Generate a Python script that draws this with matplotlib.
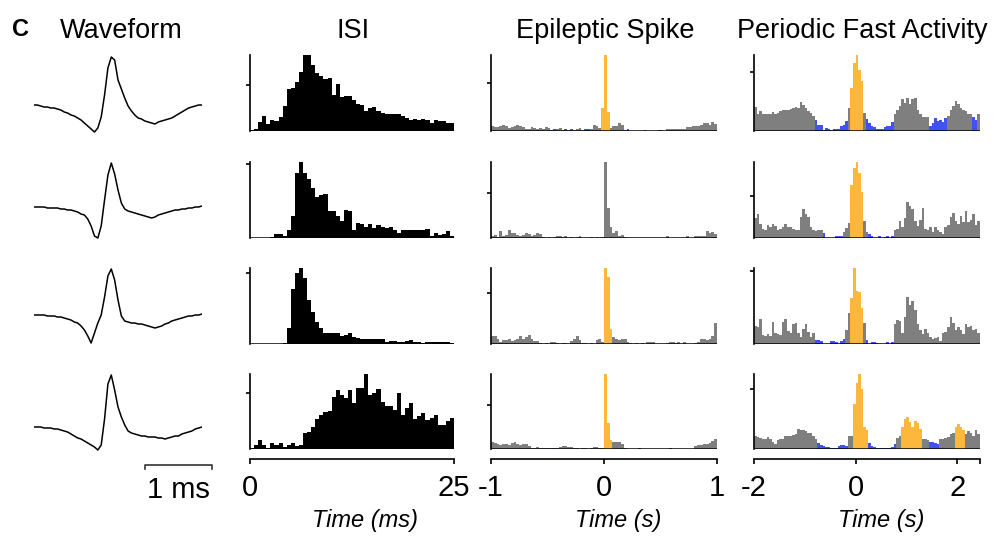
# Figure panel C: waveforms, ISI histograms and cross-correlograms

import numpy as np
import matplotlib.pyplot as plt

plt.rcParams['font.family'] = ['Liberation Sans', 'DejaVu Sans']

# ---- data ----
# waveforms, sampled every 0.05 ms (arbitrary amplitude units)
wf_dt = 0.05
wf_1 = [0, 0, -1, -2, -2, -3, -3, -4, -5, -7, -8, -10, -11, -13, -15, -18, -21, -24, -27, -23,
        -12, 10, 37, 48, 45, 25, 16, 7, -1, -6, -10, -13, -14, -16, -17, -18, -19, -17, -16, -15,
        -14, -13, -11, -9, -7, -5, -3, -2, -1, 0, 0]
wf_2 = [0, 0, 0, 0, -1, -1, -1, -1, -2, -2, -3, -3, -4, -5, -7, -8, -12, -19, -29, -31,
        -19, 7, 32, 44, 33, 17, 4, -2, -4, -5, -6, -7, -8, -9, -10, -11, -10, -8, -7, -6,
        -5, -4, -3, -3, -2, -2, -1, -1, 0, 0, 1]
wf_3 = [0, 0, 0, 0, -1, -1, -1, -2, -2, -3, -4, -5, -7, -8, -11, -15, -21, -28, -18, -8,
        0, 18, 39, 46, 35, 15, -1, -6, -7, -8, -8, -9, -9, -10, -11, -12, -13, -12, -11, -9,
        -8, -6, -5, -4, -3, -2, -1, -1, 0, 0, 1]
wf_4 = [0, 0, 0, -1, -1, -1, -2, -2, -3, -4, -5, -7, -9, -11, -12, -14, -16, -18, -20, -23,
        -18, 8, 43, 52, 37, 20, 10, 2, -4, -6, -7, -8, -9, -9, -10, -10, -10, -11, -11, -12,
        -11, -10, -9, -9, -7, -6, -5, -4, -2, -1, 0]
waveforms = [wf_1, wf_2, wf_3, wf_4]

# ISI histograms, 0.5 ms bins from 0 to 25 ms (% of peak)
isi_1 = [1, 3, 12, 20, 9, 15, 13, 18, 33, 55, 57, 64, 77, 100, 100, 87, 76, 72, 69, 70,
         47, 62, 45, 46, 46, 41, 35, 34, 26, 30, 31, 26, 24, 23, 22, 22, 23, 20, 17, 15,
         16, 15, 16, 14, 10, 15, 13, 13, 10, 11]
isi_2 = [0, 0, 0, 0, 0, 1, 5, 5, 3, 11, 29, 86, 100, 86, 77, 66, 54, 56, 58, 36,
         35, 29, 22, 37, 36, 11, 20, 18, 15, 18, 13, 17, 15, 13, 15, 11, 7, 11, 11, 11,
         11, 11, 11, 12, 3, 7, 4, 5, 9, 3]
isi_3 = [0, 0, 0, 0, 0, 0, 0, 0, 1, 21, 72, 93, 100, 87, 58, 42, 29, 21, 14, 14,
         15, 15, 11, 12, 14, 9, 8, 7, 7, 6, 6, 6, 7, 3, 4, 4, 3, 3, 4, 5,
         3, 2, 1, 3, 2, 2, 2, 3, 2, 1]
isi_4 = [1, 5, 12, 5, 2, 8, 5, 8, 3, 5, 8, 4, 5, 21, 23, 29, 40, 46, 50, 51,
         70, 79, 72, 68, 79, 62, 82, 81, 100, 72, 75, 80, 63, 57, 58, 52, 75, 46, 55, 62,
         40, 44, 48, 39, 41, 46, 32, 32, 37, 42]
isi_hists = [isi_1, isi_2, isi_3, isi_4]
isi_ticks = [60, 97, 93, 75]

# Epileptic spike cross-correlograms, 25 ms bins from -1 to 1 s
epi_1 = [6, 5, 5, 6, 8, 6, 4, 5, 6, 8, 6, 5, 3, 3, 5, 4, 3, 4, 3, 5,
         4, 1, 2, 3, 4, 1, 2, 1, 2, 1, 2, 4, 1, 2, 2, 3, 8, 6, 4, 30,
         100, 25, 4, 6, 7, 10, 8, 1, 2, 0, 0, 0, 0, 0, 1, 0, 0, 0, 0, 1,
         1, 0, 2, 3, 3, 3, 3, 2, 3, 5, 5, 6, 7, 6, 8, 10, 11, 8, 12, 9]
epi_2 = [3, 4, 1, 9, 2, 4, 10, 7, 6, 4, 3, 4, 7, 5, 3, 4, 7, 5, 1, 0,
         1, 0, 1, 2, 3, 1, 2, 0, 1, 0, 1, 2, 0, 0, 0, 1, 0, 1, 0, 1,
         100, 40, 15, 6, 9, 2, 4, 1, 0, 0, 0, 0, 0, 0, 0, 0, 0, 0, 0, 0,
         0, 0, 2, 0, 0, 0, 0, 0, 0, 2, 0, 0, 2, 2, 3, 3, 9, 6, 8, 5]
epi_3 = [11, 10, 6, 2, 5, 5, 7, 4, 5, 6, 10, 6, 9, 12, 6, 4, 4, 1, 0, 1,
         0, 2, 2, 1, 0, 1, 1, 0, 4, 6, 10, 5, 1, 1, 0, 1, 0, 5, 7, 3,
         100, 88, 20, 9, 7, 5, 7, 6, 2, 1, 0, 1, 0, 1, 0, 3, 3, 2, 0, 0,
         0, 0, 1, 2, 2, 1, 2, 0, 3, 0, 0, 0, 1, 2, 6, 7, 5, 6, 11, 27]
epi_4 = [9, 8, 7, 6, 7, 7, 6, 8, 9, 7, 6, 7, 7, 4, 2, 2, 3, 2, 2, 1,
         1, 1, 1, 1, 3, 4, 4, 3, 3, 1, 1, 0, 1, 1, 0, 1, 3, 3, 2, 1,
         100, 35, 12, 9, 10, 10, 7, 1, 0, 0, 0, 0, 1, 0, 0, 0, 0, 0, 0, 0,
         0, 0, 0, 1, 0, 0, 0, 0, 0, 0, 0, 0, 4, 5, 6, 7, 7, 8, 11, 13]
epi_hists = [epi_1, epi_2, epi_3, epi_4]
epi_up = [[39, 40, 41], [], [40, 41, 42], [40, 41, 42]]
epi_down = [[21, 22, 26, 28, 33, 34, 48, 54, 59], [], [], [22, 52, 63]]
epi_ticks = [63, 59, 67, 59]

# Periodic fast activity cross-correlograms, 50 ms bins from -2 to 2.45 s
pfa_1 = [31, 22, 26, 23, 23, 23, 22, 25, 22, 24, 26, 27, 27, 28, 29, 30, 32, 30, 38, 34,
         30, 26, 24, 20, 15, 8, 8, 1, 4, 3, 1, 3, 3, 3, 6, 8, 13, 30, 56, 90,
         100, 80, 66, 24, 16, 10, 6, 5, 3, 2, 2, 5, 6, 6, 12, 22, 28, 33, 42, 37,
         43, 36, 42, 44, 28, 22, 18, 18, 19, 7, 10, 17, 13, 14, 12, 17, 20, 27, 33, 40,
         36, 30, 28, 26, 22, 22, 18, 15, 22]
pfa_2 = [26, 32, 18, 12, 10, 17, 14, 18, 16, 10, 12, 14, 18, 14, 15, 12, 10, 11, 28, 38,
         32, 27, 14, 11, 9, 10, 11, 6, 0, 0, 0, 0, 2, 2, 2, 8, 13, 20, 70, 92,
         100, 85, 61, 22, 8, 5, 3, 0, 0, 2, 0, 1, 2, 0, 3, 10, 12, 22, 14, 26,
         48, 42, 38, 22, 16, 24, 39, 12, 10, 14, 8, 14, 10, 8, 5, 15, 17, 28, 33, 22,
         18, 29, 21, 35, 21, 24, 32, 17, 23]
pfa_3 = [24, 22, 33, 12, 11, 13, 11, 29, 14, 13, 12, 29, 33, 17, 14, 26, 28, 15, 9, 20,
         26, 16, 9, 15, 5, 5, 4, 0, 0, 0, 4, 4, 3, 0, 4, 7, 18, 41, 60, 100,
         70, 68, 48, 27, 5, 0, 2, 2, 1, 0, 0, 0, 3, 0, 3, 26, 31, 30, 15, 35,
         62, 51, 57, 45, 26, 18, 13, 20, 14, 9, 7, 8, 9, 4, 15, 16, 22, 35, 28, 18,
         23, 18, 13, 26, 22, 24, 18, 20, 15]
pfa_4 = [17, 16, 15, 13, 14, 16, 14, 10, 7, 12, 13, 14, 18, 17, 18, 19, 20, 27, 25, 26,
         24, 21, 22, 18, 13, 8, 5, 4, 3, 3, 2, 2, 1, 4, 5, 6, 4, 18, 18, 60,
         88, 100, 80, 29, 26, 8, 4, 3, 2, 2, 1, 1, 1, 1, 3, 7, 15, 17, 30, 40,
         43, 36, 29, 37, 35, 27, 14, 13, 12, 9, 9, 8, 7, 14, 14, 15, 16, 20, 21, 30,
         34, 29, 26, 20, 24, 22, 17, 25, 20]
pfa_hists = [pfa_1, pfa_2, pfa_3, pfa_4]
pfa_up = [list(range(38, 43)), list(range(38, 43)), list(range(38, 43)),
          list(range(39, 45)) + list(range(58, 66)) + list(range(79, 83))]
pfa_down = [list(range(24, 37)) + list(range(44, 55)) + list(range(69, 76)) + [86, 87],
            [27, 32, 33, 34, 45, 46, 49, 51, 52, 54],
            [24, 25, 26, 30, 31, 32, 34, 35, 44, 46, 47, 48, 52, 54],
            list(range(25, 37)) + list(range(45, 56)) + list(range(69, 73))]
pfa_ticks = [78, 55, 96, 80]

titles = ['Waveform', 'ISI', 'Epileptic Spike', 'Periodic Fast Activity']

GRAY = '#7f7f7f'
ORANGE = '#fdb73c'
BLUE = '#4052f2'

# ---- layout (pixels) ----
W, H = 1001, 536
fig = plt.figure(figsize=(W / 100, H / 100), dpi=100)


def px_box(left, top, right, bottom):
    return [left / W, 1 - bottom / H, (right - left) / W, (bottom - top) / H]


row_top = [55, 162, 268, 374]
row_base = [131, 238, 344, 449]
wf_base = [105, 207, 315, 427]


def style_hist(ax, tick, last, xlim, xticks, xlabels, xlabel, xlabel_x, extra_tick=None):
    ax.set_xlim(*xlim)
    ax.set_ylim(0, 100)
    for s in ['top', 'right']:
        ax.spines[s].set_visible(False)
    ax.spines['left'].set_linewidth(1.2)
    ax.set_yticks([tick])
    ax.tick_params(axis='y', length=3, width=1.2, labelleft=False)
    ax.axhline(0, color='k', lw=1.8, zorder=3)
    if not last:
        ax.spines['bottom'].set_visible(False)
        ax.set_xticks([])
        return
    ax.spines['bottom'].set_position(('outward', 7.5))
    ax.spines['bottom'].set_linewidth(1.2)
    ax.set_xticks(xticks)
    ax.set_xticklabels(xlabels)
    if extra_tick is not None:
        ax.set_xticks([extra_tick], minor=True)
    ax.tick_params(axis='x', which='both', length=3.5, width=1.2, labelsize=21, pad=7)
    fig.text(xlabel_x / W, 1 - 527 / H, xlabel, ha='center', va='baseline',
             fontsize=17, style='italic')


def ccg(ax, vals, edges, up, down):
    vals = np.array(vals, dtype=float)
    code = np.zeros(len(vals), dtype=int)
    code[up] = 1
    code[down] = 2
    for c, col in enumerate([GRAY, ORANGE, BLUE]):
        ax.stairs(np.where(code == c, vals, 0), edges, fill=True, color=col, lw=0)


for r in range(4):
    last = r == 3

    # waveform
    ax = fig.add_axes(px_box(34, wf_base[r] - 60, 202, wf_base[r] + 35))
    t = np.arange(len(waveforms[r])) * wf_dt
    ax.plot(t, waveforms[r], color='k', lw=1.1)
    ax.set_xlim(0, 2.5)
    ax.set_ylim(-35, 60)
    ax.axis('off')
    if last:
        x0, bar = 1.65, 1.0
        ax.plot([x0, x0, x0 + bar, x0 + bar], [-42, -38, -38, -42], color='#333333',
                lw=1.2, clip_on=False)
        fig.text(178 / W, 1 - 498 / H, '1 ms', ha='center', va='baseline', fontsize=21)

    # ISI
    ax = fig.add_axes(px_box(250, row_top[r], 454, row_base[r]))
    edges = np.linspace(0, 25, len(isi_hists[r]) + 1)
    ax.stairs(isi_hists[r], edges, fill=True, color='k', lw=0)
    style_hist(ax, isi_ticks[r], last, (0, 25), [0, 25], ['0', '25'], 'Time (ms)', 365)

    # epileptic spike
    ax = fig.add_axes(px_box(491, row_top[r], 717, row_base[r]))
    edges = np.linspace(-1, 1, len(epi_hists[r]) + 1)
    ccg(ax, epi_hists[r], edges, epi_up[r], epi_down[r])
    style_hist(ax, epi_ticks[r], last, (-1, 1), [-1, 0, 1], ['-1', '0', '1'], 'Time (s)', 618)

    # periodic fast activity
    ax = fig.add_axes(px_box(754, row_top[r], 980, row_base[r]))
    edges = -2 + 0.05 * np.arange(len(pfa_hists[r]) + 1)
    ccg(ax, pfa_hists[r], edges, pfa_up[r], pfa_down[r])
    style_hist(ax, pfa_ticks[r], last, (-2, edges[-1]), [-2, 0, 2], ['-2', '0', '2'],
               'Time (s)', 881, extra_tick=edges[-1])

# titles
for x, title in zip([121, 353, 605, 862], titles):
    fig.text(x / W, 1 - 38 / H, title, ha='center', va='baseline', fontsize=19.5)
fig.text(12 / W, 1 - 36 / H, 'C', ha='left', va='baseline', fontsize=17, fontweight='bold')

fig.savefig('out.png', dpi=100)
